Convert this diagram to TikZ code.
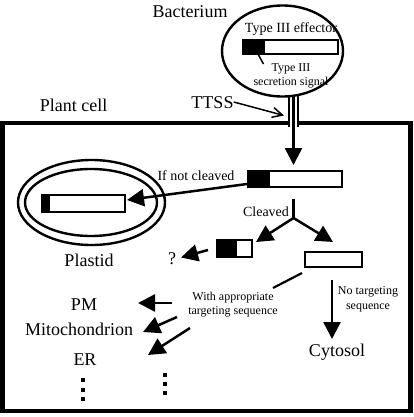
\documentclass[tikz,border=0pt]{standalone}
\usepackage{fontspec}
\setmainfont{Liberation Serif}
\usetikzlibrary{arrows.meta,shapes.geometric}
\begin{document}
\begin{tikzpicture}[x=1pt,y=-1pt,
  lbl/.style={inner sep=0, font=\fontsize{18}{20}\selectfont},
  mid/.style={inner sep=0, font=\fontsize{14}{16}\selectfont},
  sml/.style={inner sep=0, align=center, font=\fontsize{12}{14.5}\selectfont},
  bar/.style 2 args={draw, line width=1.8, inner sep=0, minimum width=#1,
    path picture={\fill (path picture bounding box.north west) rectangle ([xshift=#2]path picture bounding box.south west);}},
  oval/.style={draw, ellipse, line width=2.4, inner sep=0},
  tri/.style={line width=2.5, -{Triangle[length=17pt,width=17pt]}},
  thin/.style={line width=2.2},
  dot/.style={fill, inner sep=0, minimum size=4.2}
]
\useasboundingbox (0,0) rectangle (413,417);

% plant cell border with gap for the tube
\coordinate (gapL) at (289,123);
\coordinate (gapR) at (298,123);
\draw[line width=4.5] (gapL) -- (2.5,123) -- (2.5,411) -- (410.5,411) -- (410.5,123) -- (gapR);

% bacterium
\node[oval, minimum width=121, minimum height=91] (bact) at (282.5,51) {};
\node[lbl] (bactlbl) at (190,12) {Bacterium};
\node[mid] (efflbl) at (291,29) {Type III effector};
\node[bar={95}{22}, minimum height=14] (effbar) at (290.5,47) {};
\node[sml] (siglbl) at (291,76) {Type III\\secretion signal};
\coordinate (leadA) at (258,54);
\coordinate (leadB) at (263.5,64);
\draw[line width=1.5] (leadA) -- (leadB);

% TTSS tube
\coordinate (tubeLa) at (289,96.2);
\coordinate (tubeLb) at (289,127);
\coordinate (tubeRa) at (298,95.2);
\coordinate (tubeRb) at (298,127);
\draw[line width=2] (tubeLa) -- (tubeLb) (tubeRa) -- (tubeRb);
\node[lbl] (ttss) at (212.5,103) {TTSS};
\coordinate (ttssTip) at (284,115.5);
\draw[line width=1.5, -{Straight Barb[length=10pt,width=10pt]}] (ttss.east) ++(0,-1) -- (ttssTip);

\node[lbl] (plant) at (73.5,105) {Plant cell};

% main path
\coordinate (shaftTop) at (293.5,96.5);
\coordinate (shaftTip) at (293.5,165);
\draw[tri] (shaftTop) -- (shaftTip);
\node[bar={94}{22}, minimum height=16] (mainbar) at (295,179) {};

% plastid
\node[oval, minimum width=147, minimum height=85] (plastOut) at (91.5,202.5) {};
\node[oval, minimum width=132, minimum height=67] (plastIn) at (91,202.5) {};
\node[bar={83}{8}, minimum height=17] (plastbar) at (83.5,203.5) {};
\node[lbl] (plastid) at (89,260) {Plastid};
\node[mid] (notcl) at (196,176) {If not cleaved};
\coordinate (ncStart) at (247,184);
\coordinate (ncTip) at (127,200);
\draw[tri] (ncStart) -- (ncTip);

% cleaved branch
\node[mid] (cleaved) at (266,212) {Cleaved};
\coordinate (brTop) at (293.5,199);
\coordinate (brMid) at (293.5,218);
\coordinate (brL) at (256,242);
\coordinate (brR) at (333,242);
\draw[thin] (brTop) -- (brMid);
\draw[tri] (brMid) -- (brL);
\draw[tri] (brMid) -- (brR);

\node[bar={35}{20}, minimum height=17] (smallbar) at (234.5,248.5) {};
\node[lbl] (qm) at (172,259) {?};
\coordinate (qStart) at (208,250);
\coordinate (qTip) at (181,257.5);
\draw[tri] (qStart) -- (qTip);

\node[bar={57}{0}, minimum height=15] (freebar) at (333.5,259.5) {};
\coordinate (wStart) at (302,273);
\coordinate (wEnd) at (273,288);
\draw[thin] (wStart) -- (wEnd);
\node[sml] (withlbl) at (233,304.5) {With appropriate\\targeting sequence};

\node[lbl] (pm) at (84,305) {PM};
\node[lbl] (mito) at (79,329) {Mitochondrion};
\node[lbl] (er) at (85,360) {ER};
\coordinate (pmS) at (172,303);
\coordinate (pmT) at (138,303);
\coordinate (mS) at (177,317);
\coordinate (mT) at (143,332);
\coordinate (eS) at (190,328);
\coordinate (eT) at (148,355);
\draw[tri] (pmS) -- (pmT);
\draw[tri] (mS) -- (mT);
\draw[tri] (eS) -- (eT);

% cytosol
\coordinate (cS) at (332,280);
\coordinate (cT) at (332,339);
\draw[tri] (cS) -- (cT);
\node[sml] (notarg) at (368,299.5) {No targeting\\sequence};
\node[lbl] (cyto) at (337,352) {Cytosol};

% dots
\node[dot] (d1) at (83,380) {};
\node[dot] (d2) at (83,390) {};
\node[dot] (d3) at (83,399) {};
\node[dot] (d4) at (165,375) {};
\node[dot] (d5) at (165,384) {};
\node[dot] (d6) at (165,393) {};
\end{tikzpicture}
\end{document}
